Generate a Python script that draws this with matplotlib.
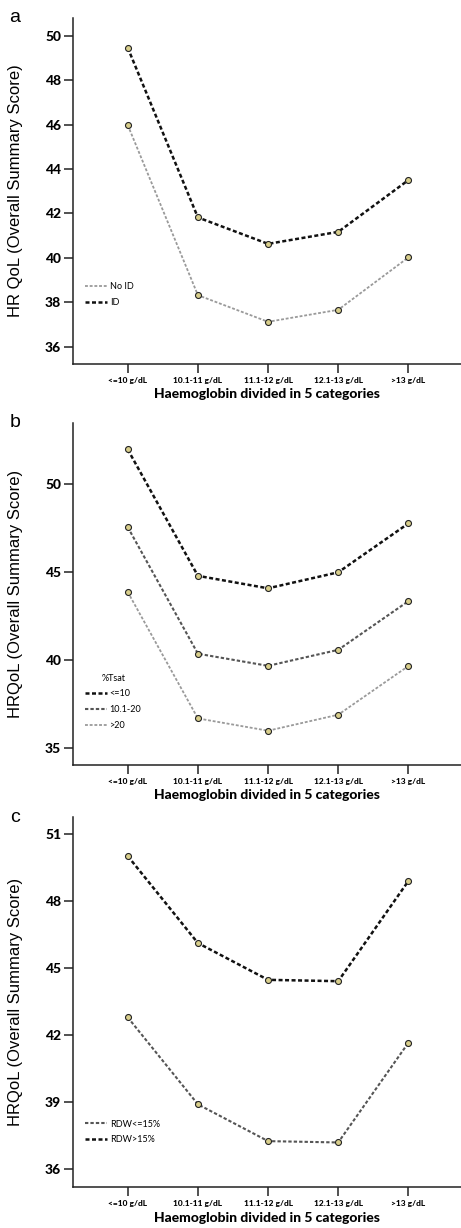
import matplotlib
matplotlib.use("Agg")
import matplotlib.pyplot as plt

# Haemoglobin categories (x axis)
categories = ["<=10 g/dL", "10.1-11 g/dL", "11.1-12 g/dL", "12.1-13 g/dL", ">13 g/dL"]

# Panel a: iron deficiency
a_no_id = [45.98, 38.32, 37.12, 37.66, 40.02]
a_id = [49.46, 41.82, 40.63, 41.17, 43.50]

# Panel b: %Tsat
b_le10 = [51.97, 44.78, 44.07, 44.98, 47.76]
b_10_20 = [47.55, 40.35, 39.66, 40.57, 43.34]
b_gt20 = [43.86, 36.67, 35.97, 36.88, 39.65]

# Panel c: RDW
c_rdw_low = [42.80, 38.90, 37.25, 37.19, 41.66]
c_rdw_high = [50.03, 46.13, 44.48, 44.42, 48.91]

BLACK = "#111111"
MID = "#555555"
LIGHT = "#9a9a9a"
FACE = "#d9cf8c"

W, H = 461, 1228
fig = plt.figure(figsize=(W / 100, H / 100), dpi=100)


def px_axes(top, bottom, left=73, right=461):
    return fig.add_axes([left / W, 1 - bottom / H, (right - left) / W, (bottom - top) / H])


def draw_series(ax, values, color, lw, label):
    x = range(len(values))
    ax.plot(x, values, linestyle=(0, (1.6, 1.0)), color=color, linewidth=lw,
            marker="o", markersize=4.3, markerfacecolor=FACE,
            markeredgecolor="#222222", markeredgewidth=0.8, label=label)


def style_axes(ax, ylim, yticks, ylabel, letter):
    ax.set_xlim(-0.78, 4.75)
    ax.set_ylim(*ylim)
    ax.set_yticks(yticks)
    ax.set_xticks(range(len(categories)))
    ax.set_xticklabels(categories, fontsize=6, fontweight="black", family="Lato")
    for t in ax.get_yticklabels():
        t.set_fontsize(10)
        t.set_fontweight("black")
        t.set_family("Lato")
    ax.spines["top"].set_visible(False)
    ax.spines["right"].set_visible(False)
    for s in ("left", "bottom"):
        ax.spines[s].set_linewidth(1.1)
        ax.spines[s].set_color("#222222")
    ax.tick_params(axis="both", direction="out", length=6.5, width=1.1, color="#222222")
    ax.tick_params(axis="x", pad=3)
    ax.tick_params(axis="y", pad=2)
    ax.set_xlabel("Haemoglobin divided in 5 categories", fontsize=10,
                  fontweight="black", family="Lato", labelpad=3)
    ax.set_ylabel(ylabel, fontsize=12, family="Liberation Sans")
    ax.yaxis.set_label_coords(-0.13, 0.5)
    ax.text(-0.15, 1.0, letter, transform=ax.transAxes, fontsize=14,
            family="Liberation Sans", va="center", ha="center")


def add_legend(ax, y_top, title=None):
    leg = ax.legend(loc="upper left", bbox_to_anchor=(0.02, y_top), frameon=False,
                    handlelength=2.4, handletextpad=0.3,
                    labelspacing=0.75, borderpad=0, title=title, title_fontsize=6.5,
                    prop={"family": "Lato", "size": 6.5})
    for h in leg.legend_handles:
        h.set_marker("")
    if title:
        leg.get_title().set_family("Lato")
    return leg


# Panel a
ax_a = px_axes(18, 364)
draw_series(ax_a, a_no_id, LIGHT, 1.3, "No ID")
draw_series(ax_a, a_id, BLACK, 1.8, "ID")
style_axes(ax_a, (35.22, 50.8), [36, 38, 40, 42, 44, 46, 48, 50],
           "HR QoL (Overall Summary Score)", "a")
add_legend(ax_a, 0.25)

# Panel b
ax_b = px_axes(422.7, 765)
draw_series(ax_b, b_le10, BLACK, 1.8, "<=10")
draw_series(ax_b, b_10_20, MID, 1.5, "10.1-20")
draw_series(ax_b, b_gt20, LIGHT, 1.3, ">20")
style_axes(ax_b, (34.02, 53.49), [35, 40, 45, 50],
           "HRQoL (Overall Summary Score)", "b")
add_legend(ax_b, 0.28, title="%Tsat")

# Panel c
ax_c = px_axes(817, 1187.3)
draw_series(ax_c, c_rdw_low, MID, 1.5, "RDW<=15%")
draw_series(ax_c, c_rdw_high, BLACK, 1.8, "RDW>15%")
style_axes(ax_c, (35.18, 51.78), [36, 39, 42, 45, 48, 51],
           "HRQoL (Overall Summary Score)", "c")
add_legend(ax_c, 0.195)

fig.savefig("out.png", dpi=100)
